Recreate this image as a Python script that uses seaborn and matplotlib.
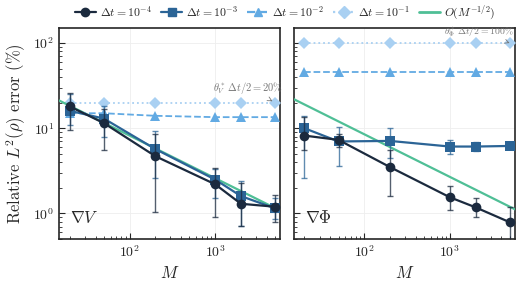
import numpy as np
import pandas as pd
import matplotlib
matplotlib.use('Agg')
import matplotlib.pyplot as plt
import seaborn as sns
from matplotlib.lines import Line2D

# sample sizes
M = [20, 50, 200, 1000, 2000, 5000]
dts = [r'$\Delta t = 10^{-4}$', r'$\Delta t = 10^{-3}$', r'$\Delta t = 10^{-2}$', r'$\Delta t = 10^{-1}$']

# grad V panel
v_dt4 = [18, 11.5, 4.7, 2.2, 1.3, 1.2]
v_dt4_lo = [9.5, 5.5, 1.05, 0.9, 0.72, 0.8]
v_dt4_hi = [26, 17, 8.5, 3.4, 2.3, 1.65]
v_dt3 = [16, 13, 5.7, 2.5, 1.6, 1.15]
v_dt3_lo = [11, 8.0, 2.6, 1.5, 0.72, 0.85]
v_dt3_hi = [25, 18, 9.2, 3.3, 2.4, 1.5]
v_dt2 = [15, 15, 14, 13.5, 13.5, 13.5]
v_dt1 = [20, 20, 20, 20, 20, 20]

# grad Phi panel
p_dt4 = [8.2, 7.3, 3.5, 1.55, 1.18, 0.79]
p_dt4_lo = [5.6, 6.0, 1.6, 1.1, 0.9, 0.45]
p_dt4_hi = [13.5, 8.5, 5.6, 2.1, 1.5, 1.18]
p_dt3 = [10, 7.0, 7.1, 6.1, 6.1, 6.2]
p_dt3_lo = [2.6, 3.6, 4.5, 5.0, 5.4, 5.8]
p_dt3_hi = [14, 10.3, 10.2, 7.3, 6.9, 6.6]
p_dt2 = [46, 46, 46, 46, 46, 46]
p_dt1 = [100, 100, 100, 100, 100, 100]

rate_M = [15, 6000]
rate_c = [82, 85]

colors = ['#1b2a3e', '#2b6496', '#62aae3', '#a9d0f2']
green = '#4fbf96'
markers = ['o', 's', '^', 'D']
dashes = ['-', '-', '--', ':']

sns.set_style('ticks')
plt.rcParams['font.family'] = 'serif'
plt.rcParams['font.serif'] = ['cmr10', 'DejaVu Serif']
plt.rcParams['mathtext.fontset'] = 'cm'
plt.rcParams['axes.formatter.use_mathtext'] = True

fig, axes = plt.subplots(1, 2, figsize=(5.23, 2.83), dpi=100, sharey=True)
fig.subplots_adjust(left=0.113, right=0.985, bottom=0.155, top=0.901, wspace=0.06)

panels = [
    (axes[0], [v_dt4, v_dt3, v_dt2, v_dt1], [(v_dt4_lo, v_dt4_hi), (v_dt3_lo, v_dt3_hi)], rate_c[0], r'$\nabla V$'),
    (axes[1], [p_dt4, p_dt3, p_dt2, p_dt1], [(p_dt4_lo, p_dt4_hi), (p_dt3_lo, p_dt3_hi)], rate_c[1], r'$\nabla \Phi$'),
]

for ax, series, errs, c, lab in panels:
    ax.grid(True, which='major', color='#eeeeee', lw=0.6)
    # draw in reverse so dt=1e-4 sits on top
    for i in [3, 2, 1, 0]:
        df = pd.DataFrame({'M': M, 'err': series[i]})
        if i < 2:
            lo, hi = errs[i]
            yerr = [np.array(series[i]) - np.array(lo), np.array(hi) - np.array(series[i])]
            ax.errorbar(M, series[i], yerr=yerr, fmt='none', ecolor=colors[i], alpha=0.75,
                        capsize=2.5, elinewidth=1.0, capthick=1.0, zorder=3 + (2 - i))
        sns.lineplot(data=df, x='M', y='err', ax=ax, color=colors[i], linestyle=dashes[i],
                     marker=markers[i], markersize=7 if i != 3 else 6, markeredgewidth=0,
                     lw=1.6 if i < 2 else 1.3, zorder=4 + (2 - i))
    rm = np.array(rate_M, dtype=float)
    ax.plot(rm, c * rm ** -0.5, color=green, lw=1.6, zorder=3.5)
    ax.set_xscale('log')
    ax.set_yscale('log')
    ax.set_xlim(15, 5800)
    ax.set_ylim(0.5, 150)
    ax.set_xlabel(r'$M$', fontsize=12)
    ax.set_ylabel('')
    ax.tick_params(which='both', direction='in', labelsize=10)
    ax.tick_params(which='major', length=4)
    ax.tick_params(which='minor', length=2)
    ax.text(0.05, 0.06, lab, transform=ax.transAxes, fontsize=12, ha='left', va='bottom')
    for s in ax.spines.values():
        s.set_linewidth(1.2)

axes[0].set_ylabel(r'Relative $L^2(\rho)$ error (%)', fontsize=12)

axes[0].annotate(r'$\theta_V^*\,\Delta t/2 = 20\%$', xy=(5000, 20), xytext=(2400, 30),
                 fontsize=7.5, color='#777777', ha='center', va='center',
                 arrowprops=dict(arrowstyle='->', color='#777777', lw=0.6))
axes[1].annotate(r'$\theta_\Phi^*\,\Delta t/2 = 100\%$', xy=(5000, 100), xytext=(5600, 136),
                 fontsize=7, color='#777777', ha='right', va='center',
                 arrowprops=dict(arrowstyle='->', color='#777777', lw=0.6))

handles = []
for i in range(4):
    handles.append(Line2D([], [], color=colors[i], marker=markers[i], linestyle=dashes[i],
                          markersize=6, lw=1.6, label=dts[i]))
handles.append(Line2D([], [], color=green, lw=2, label=r'$O(M^{-1/2})$'))
fig.legend(handles=handles, loc='upper center', bbox_to_anchor=(0.545, 1.025), ncol=5,
           frameon=False, fontsize=8.5, handlelength=1.8, columnspacing=0.8, handletextpad=0.3)

fig.savefig('out.png', dpi=100)
